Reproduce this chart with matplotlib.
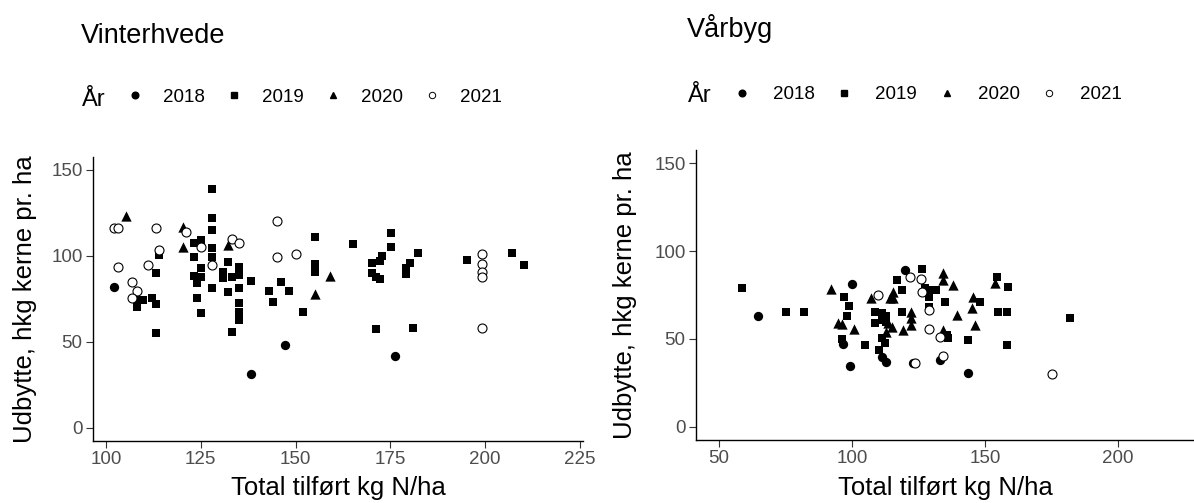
import matplotlib
matplotlib.use("Agg")
import matplotlib.pyplot as plt
from matplotlib.lines import Line2D

plt.rcParams['font.family'] = ['Liberation Sans', 'DejaVu Sans']

# ------------------------------------------
# Data (x = kg N/ha, y = hkg kerne pr. ha)
# ------------------------------------------
years = ['2018', '2019', '2020', '2021']

# Vinterhvede
vh_2018_x = [102.1, 138.2, 147.1, 176.2]
vh_2018_y = [82, 31.2, 48.1, 41.7]

vh_2019_x = [128.1, 128.1, 128.1, 123.1, 125.1, 123.1, 128.1, 128.1, 114.1, 113.1,
             123.1, 125.1, 125.1, 124.1, 124.1, 125.1, 128.1, 113.1,
             108.1, 108.1, 109.9, 112.1, 113.2,
             132.1, 131.0, 131.0, 133.2, 135.2, 135.2, 132.1, 135.2, 135.2, 135.2, 135.2, 133.2, 138.2,
             143.1, 144.0, 146.2, 148.2, 152.1, 155.2, 155.2, 155.2, 165.1, 170.2, 170.2, 172.2,
             172.8, 172.2, 171.2, 175.1, 175.1, 171.2, 181.1, 179.2, 179.2, 180.3, 182.2,
             195.2, 207.1, 210.2]
vh_2019_y = [138.6, 121.7, 114.9, 107.6, 109.1, 99.1, 104.3, 99.4, 100.4, 89.8,
             88.2, 92.7, 87.8, 84.0, 75.6, 66.5, 81.0, 55.2,
             74.2, 70.4, 74.2, 75.2, 71.9,
             96.5, 90.7, 86.9, 87.8, 93.6, 88.8, 79.1, 81.0, 72.3, 67.4, 62.6, 55.8, 85.3,
             79.5, 73.3, 84.5, 79.7, 67.4, 110.7, 95.2, 90.7, 106.6, 95.9, 89.8, 86.3,
             99.8, 97.1, 87.8, 113.0, 105.2, 57.6, 58.1, 92.7, 89.2, 95.6, 101.7,
             97.5, 101.7, 94.6]

vh_2020_x = [105.3, 120.2, 120.2, 132.1, 159.1, 155.2]
vh_2020_y = [122.8, 116.5, 105.2, 106.2, 88.2, 77.7]

vh_2021_x = [102.1, 103.3, 103.1, 113.1, 114.1, 111.1, 107.0, 108.1, 107.0, 121.1, 125.1,
             128.1, 133.2, 135.2, 145.2, 145.2, 150.2, 199.1, 199.1, 199.1, 199.1, 199.1]
vh_2021_y = [115.9, 115.9, 93.6, 115.9, 103.3, 94.6, 84.5, 79.7, 75.2, 114.0, 104.9,
             94.6, 109.5, 107.2, 120.2, 99.4, 101.0, 101.0, 95.0, 90.7, 87.4, 58.1]

# Vårbyg
vb_2018_x = [64.8, 99.9, 99.2, 96.5, 119.9, 111.2, 113.0, 123.0, 133.1, 143.7]
vb_2018_y = [63.2, 81.2, 34.5, 47.0, 89.2, 39.8, 36.7, 36.1, 38.0, 30.4]

vb_2019_x = [58.8, 75.1, 82.0, 97.0, 99.0, 98.0, 96.1, 126.2, 116.8, 118.9,
             108.6, 111.2, 113.0, 108.6, 111.2, 113.0, 118.9, 111.2, 112.4, 110.3, 104.9,
             127.4, 128.1, 130.0, 131.8, 128.9, 128.9, 135.0, 148.1, 136.2, 143.7, 135.6,
             154.4, 158.8, 155.0, 158.2, 158.2, 182.0]
vb_2019_y = [79.1, 65.5, 65.5, 74.0, 68.9, 63.0, 49.9, 89.8, 83.5, 77.8,
             65.5, 64.5, 59.8, 58.9, 60.7, 63.0, 65.1, 50.3, 47.5, 43.7, 46.5,
             78.8, 77.8, 77.8, 77.8, 74.0, 68.3, 71.1, 71.1, 50.3, 49.3, 52.2,
             85.4, 79.7, 65.5, 65.5, 46.5, 62.0]

vb_2020_x = [92.0, 94.9, 96.1, 100.8, 115.5, 115.5, 107.1, 114.3, 113.7, 115.0, 113.0,
             122.4, 122.4, 122.4, 119.3, 134.3, 134.3, 138.1, 145.6, 145.0, 139.4, 146.2,
             134.3, 153.8]
vb_2020_y = [78.2, 58.9, 58.5, 55.6, 76.8, 73.4, 73.1, 73.0, 58.9, 56.9, 54.1,
             65.5, 61.7, 57.9, 55.0, 87.3, 83.5, 80.6, 74.0, 67.4, 63.6, 57.9,
             55.0, 81.6]

vb_2021_x = [109.9, 121.8, 125.9, 126.2, 128.8, 128.8, 133.0, 134.3, 123.7, 175.1]
vb_2021_y = [75.0, 85.2, 84.3, 76.5, 66.2, 55.8, 50.8, 40.5, 36.1, 30.0]

W, H = 1194, 503
fig = plt.figure(figsize=(W / 100, H / 100), dpi=100)


def px(x0, y0, x1, y1):
    # pixel box -> figure fraction [left, bottom, width, height]
    return [x0 / W, 1 - y1 / H, (x1 - x0) / W, (y1 - y0) / H]


def style_axis(ax, xlim, xticks):
    ax.set_xlim(*xlim)
    ax.set_ylim(-7.5, 157.5)
    ax.set_xticks(xticks)
    ax.set_yticks([0, 50, 100, 150])
    for s in ['top', 'right']:
        ax.spines[s].set_visible(False)
    for s in ['left', 'bottom']:
        ax.spines[s].set_linewidth(1.0)
    ax.tick_params(direction='out', length=5, width=0.8, color='#333333',
                   labelcolor='#4D4D4D', labelsize=13.5, pad=2.5)
    ax.set_xlabel('Total tilført kg N/ha', fontsize=18.5, labelpad=6)
    ax.set_ylabel('Udbytte, hkg kerne pr. ha', fontsize=18.5)
    ax.yaxis.set_label_coords(-0.115, 0.5)


def draw(ax, xs, ys):
    ax.scatter(xs[0], ys[0], marker='o', s=45, color='black', linewidths=0)
    ax.scatter(xs[1], ys[1], marker='s', s=38, color='black', linewidths=0)
    ax.scatter(xs[2], ys[2], marker='^', s=55, color='black', linewidths=0)
    ax.scatter(xs[3], ys[3], marker='o', s=42, facecolors='white',
               edgecolors='black', linewidths=0.8)


ax1 = fig.add_axes(px(93, 156.8, 583, 440.6))
draw(ax1, [vh_2018_x, vh_2019_x, vh_2020_x, vh_2021_x],
     [vh_2018_y, vh_2019_y, vh_2020_y, vh_2021_y])
style_axis(ax1, (96.6, 225.8), [100, 125, 150, 175, 200, 225])

ax2 = fig.add_axes(px(696, 150, 1194, 439.9))
draw(ax2, [vb_2018_x, vb_2019_x, vb_2020_x, vb_2021_x],
     [vb_2018_y, vb_2019_y, vb_2020_y, vb_2021_y])
style_axis(ax2, (41.4, 228.6), [50, 100, 150, 200])
ax2.yaxis.set_label_coords(-0.118, 0.5)

# titles
fig.text(81 / W, 1 - 43.3 / H, 'Vinterhvede', fontsize=19.5, va='baseline')
fig.text(687 / W, 1 - 37.3 / H, 'Vårbyg', fontsize=19.5, va='baseline')

# legends: "År" + 4 keys in a row
handles = [
    Line2D([], [], linestyle='none', marker='o', markersize=4.8, color='black'),
    Line2D([], [], linestyle='none', marker='s', markersize=4.2, color='black'),
    Line2D([], [], linestyle='none', marker='^', markersize=5.0, color='black'),
    Line2D([], [], linestyle='none', marker='o', markersize=4.6, markerfacecolor='white',
           markeredgecolor='black', markeredgewidth=0.7),
]
legend_specs = [
    # År x, År baseline, first key left, keys centre y, text pad, column spacing
    (82, 106, 125.5, 97, 1.0, 1.05),
    (688, 101.7, 732.5, 94.5, 1.15, 1.08),
]
for tx, ty, lx, ly, tpad, cspace in legend_specs:
    fig.text(tx / W, 1 - ty / H, 'År', fontsize=17, va='baseline')
    fig.legend(handles, years, loc='center left', bbox_to_anchor=(lx / W, 1 - ly / H),
               ncol=4, frameon=False, borderpad=0, borderaxespad=0, fontsize=13.5,
               handlelength=1.0, handletextpad=tpad, columnspacing=cspace)

fig.savefig('out.png', dpi=100)
